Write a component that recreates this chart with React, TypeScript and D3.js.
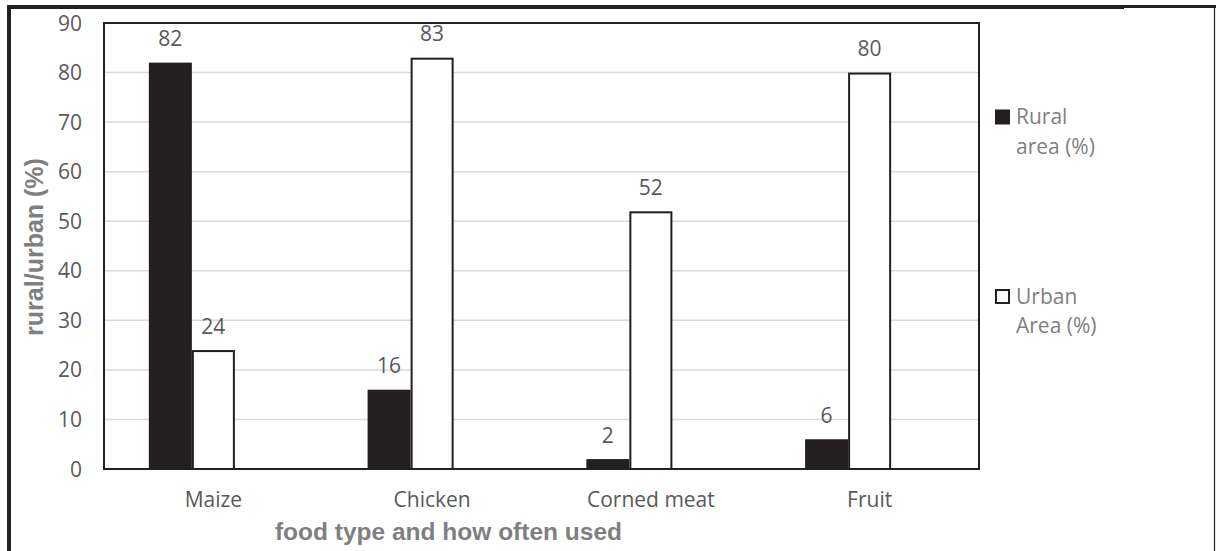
import React from "react";
import * as d3 from "d3";

const categories = ["Maize", "Chicken", "Corned meat", "Fruit"];
const ruralValues = [82, 16, 2, 6];
const urbanValues = [24, 83, 52, 80];
const seriesKeys = ["rural", "urban", "blank"];
const legendLabels = [["Rural", "area (%)"], ["Urban", "Area (%)"]];
const yTicks = [0, 10, 20, 30, 40, 50, 60, 70, 80, 90];
const yTitle = "rural/urban (%)";
const xTitle = "food type and how often used";

const W = 1216;
const H = 551;
const plot = { left: 104, right: 979, top: 23, bottom: 469 };
const font = "'Open Sans', 'Noto Sans', sans-serif";
const boldFont = "'Liberation Sans', Arial, sans-serif";
const dark = "#231f20";

export default function App() {
  const y = d3.scaleLinear().domain([0, 90]).range([plot.bottom, plot.top]);
  const x0 = d3
    .scaleBand<string>()
    .domain(categories)
    .range([plot.left, plot.right])
    .paddingInner(0.41)
    .paddingOuter(0.205);
  const x1 = d3.scaleBand<string>().domain(seriesKeys).range([0, x0.bandwidth()]);

  const bars = categories.flatMap((c, i) => [
    { c, key: "rural", v: ruralValues[i] },
    { c, key: "urban", v: urbanValues[i] },
  ]);

  return (
    <svg width={W} height={H} style={{ position: "absolute", left: 0, top: 0 }}>
      <rect x={0} y={0} width={W} height={H} fill="#fff" />
      {/* outer frame */}
      <line x1={9} x2={9} y1={5} y2={H} stroke={dark} strokeWidth={4} />
      <line x1={7} x2={1124} y1={7} y2={7} stroke={dark} strokeWidth={4} />
      <line x1={1124} x2={W} y1={6.5} y2={6.5} stroke={dark} strokeWidth={3} />
      <line x1={1214.5} x2={1214.5} y1={7} y2={H} stroke={dark} strokeWidth={1.2} />

      {/* gridlines */}
      {yTicks.slice(1).map((t) => (
        <line key={t} x1={plot.left} x2={plot.right} y1={y(t)} y2={y(t)} stroke="#d9d9d9" strokeWidth={1.5} />
      ))}
      {/* bars */}
      {bars.map((b) => {
        const bx = (x0(b.c) ?? 0) + (x1(b.key) ?? 0);
        const bw = x1.bandwidth();
        const isRural = b.key === "rural";
        return (
          <g key={b.c + b.key}>
            <rect
              x={isRural ? bx : bx + 1}
              y={y(b.v) + (isRural ? 0 : 1)}
              width={isRural ? bw : bw - 2}
              height={y(0) - y(b.v) - (isRural ? 0 : 1)}
              fill={isRural ? dark : "#fff"}
              stroke={dark}
              strokeWidth={isRural ? 0 : 2}
            />
            <text
              x={bx + bw / 2}
              y={y(b.v) - 16.5}
              textAnchor="middle"
              fontFamily={font}
              fontSize={21}
              fill="#595959"
            >
              {b.v}
            </text>
          </g>
        );
      })}
      {/* zero axis line */}
      <line x1={plot.left} x2={plot.right} y1={y(0)} y2={y(0)} stroke="#a6a6a6" strokeWidth={2} />
      {/* plot border */}
      <rect
        x={plot.left}
        y={plot.top}
        width={plot.right - plot.left}
        height={plot.bottom - plot.top}
        fill="none"
        stroke={dark}
        strokeWidth={2}
      />
      {/* y tick labels */}
      {yTicks.map((t) => (
        <text key={t} x={82} y={y(t) + 7.5} textAnchor="end" fontFamily={font} fontSize={21} fill="#595959">
          {t}
        </text>
      ))}
      {/* x tick labels */}
      {categories.map((c) => (
        <text
          key={c}
          x={(x0(c) ?? 0) + x0.bandwidth() / 2}
          y={507}
          textAnchor="middle"
          fontFamily={font}
          fontSize={21}
          fill="#595959"
        >
          {c}
        </text>
      ))}
      {/* axis titles */}
      <text
        transform={`translate(43,247) rotate(-90)`}
        textAnchor="middle"
        fontFamily={boldFont}
        fontWeight="bold"
        fontSize={25}
        fill="#7f7f7f"
      >
        {yTitle}
      </text>
      <text
        x={448.5}
        y={540}
        textAnchor="middle"
        fontFamily={boldFont}
        fontWeight="bold"
        fontSize={24.5}
        fill="#7f7f7f"
      >
        {xTitle}
      </text>
      {/* legend */}
      {legendLabels.map((lines, i) => {
        const ly = i === 0 ? 109.5 : 289;
        return (
          <g key={i}>
            {i === 0 ? (
              <rect x={995} y={ly} width={15} height={15} fill={dark} />
            ) : (
              <rect x={996} y={ly + 1} width={13} height={13} fill="#fff" stroke={dark} strokeWidth={2} />
            )}
            {lines.map((l, j) => (
              <text key={j} x={1016} y={ly + 14.5 + j * 29.5} fontFamily={font} fontSize={21} fill="#808080">
                {l}
              </text>
            ))}
          </g>
        );
      })}
    </svg>
  );
}
